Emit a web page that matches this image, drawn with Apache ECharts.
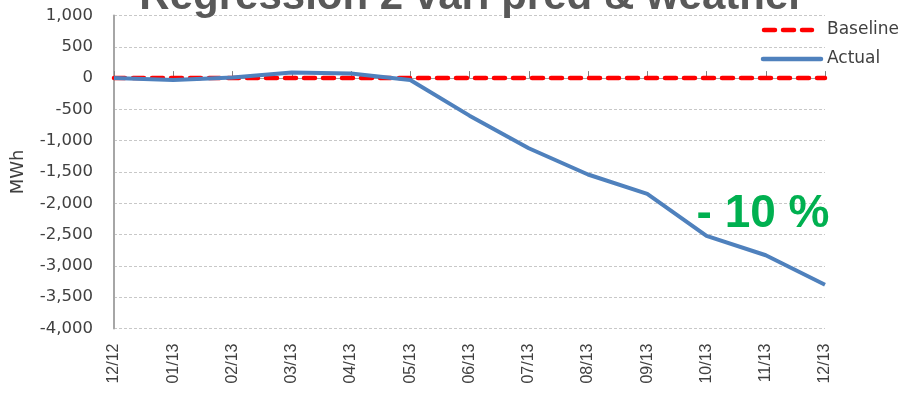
<!DOCTYPE html>
<html>
<head>
<meta charset="utf-8">
<script src="https://cdn.jsdelivr.net/npm/echarts@6/dist/echarts.min.js"></script>
<style>
  html, body { margin: 0; padding: 0; background: #fff; }
  #chart { width: 902px; height: 393px; }
</style>
</head>
<body>
<div id="chart"></div>
<script>
// Monthly savings against the regression baseline (MWh)
const months = ['12/12', '01/13', '02/13', '03/13', '04/13', '05/13', '06/13',
                '07/13', '08/13', '09/13', '10/13', '11/13', '12/13'];
const baseline = [0, 0, 0, 0, 0, 0, 0, 0, 0, 0, 0, 0, 0];
const actual = [0, -30, 10, 90, 75, -30, -600, -1120, -1540, -1850, -2520, -2830, -3300];
const yTicks = { min: -4000, max: 1000, step: 500 };
const titleText = 'Regression 2 vari pred & weather';
const savingsText = '- 10 %';

const chart = echarts.init(document.getElementById('chart'));
const yFont = '"DejaVu Sans", sans-serif';
const blue = '#4f81bd';
const red = '#ff0000';
const textGrey = '#404040';

chart.setOption({
  animation: false,
  grid: { left: 114, right: 77, top: 15.5, bottom: 64.5, containLabel: false },
  legend: { show: false },
  xAxis: [{
    type: 'category', data: months, boundaryGap: false,
    axisLine: { onZero: false, show: false },
    axisTick: { show: false },
    axisLabel: {
      rotate: 90, margin: 15, fontFamily: '"Liberation Sans", Arial, sans-serif',
      fontSize: 16, color: textGrey, interval: 0
    },
    splitLine: { show: false }
  }, {
    type: 'category', data: months, boundaryGap: false, position: 'bottom',
    axisLine: { onZero: true, show: true, lineStyle: { color: '#a0a0a0', width: 1 } },
    axisTick: { show: true, inside: true, length: 7, interval: 0, lineStyle: { color: '#808080' } },
    axisLabel: { show: false },
    splitLine: { show: false }
  }],
  yAxis: {
    type: 'value', min: yTicks.min, max: yTicks.max, interval: yTicks.step,
    name: 'MWh', nameLocation: 'middle', nameGap: 87, nameRotate: 90,
    nameTextStyle: { fontFamily: yFont, fontSize: 18, color: textGrey },
    axisLine: { show: true, lineStyle: { color: '#a6a6a6', width: 2 } },
    axisTick: { show: false },
    axisLabel: {
      margin: 21, fontFamily: yFont, fontSize: 16.5, color: textGrey,
      formatter: v => v.toLocaleString('en-US')
    },
    splitLine: { show: true, lineStyle: { color: '#c8c8c8', type: [3, 2], width: 1 } }
  },
  series: [{
    name: 'Baseline', type: 'line', data: baseline, xAxisIndex: 0,
    showSymbol: false, symbol: 'none',
    lineStyle: { color: red, width: 4.5, type: [11, 8], cap: 'round' },
    itemStyle: { color: red }, z: 2
  }, {
    name: 'Actual', type: 'line', data: actual, xAxisIndex: 0,
    showSymbol: false, symbol: 'none',
    lineStyle: { color: blue, width: 4 },
    itemStyle: { color: blue }, z: 3
  }],
  graphic: [{
    type: 'text', x: 472, y: -23.5, z: 100,
    style: {
      text: titleText, fill: '#595959', align: 'center',
      font: 'bold 42px "Liberation Sans", Arial, sans-serif'
    }
  }, {
    type: 'text', x: 763, y: 214, z: 100,
    style: {
      text: savingsText, fill: '#00b050', align: 'center', verticalAlign: 'middle',
      font: 'bold 46px "Liberation Sans", Arial, sans-serif'
    }
  },
  // legend keys
  {
    type: 'line', shape: { x1: 764, y1: 30, x2: 812, y2: 30 }, z: 100,
    style: { stroke: red, lineWidth: 4.5, lineDash: [11, 8], lineCap: 'round' }
  }, {
    type: 'text', x: 827, y: 30, z: 100,
    style: { text: 'Baseline', fill: textGrey, verticalAlign: 'middle', font: '17px ' + yFont }
  }, {
    type: 'line', shape: { x1: 763, y1: 59, x2: 821, y2: 59 }, z: 100,
    style: { stroke: blue, lineWidth: 4.5, lineCap: 'round' }
  }, {
    type: 'text', x: 827, y: 59, z: 100,
    style: { text: 'Actual', fill: textGrey, verticalAlign: 'middle', font: '17px ' + yFont }
  }]
});
</script>
</body>
</html>
